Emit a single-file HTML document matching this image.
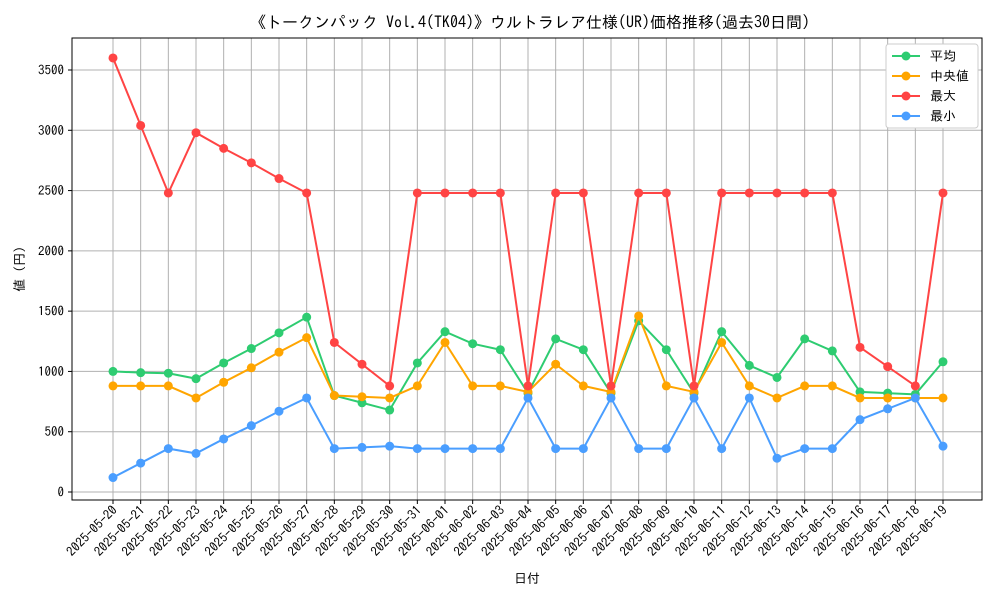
<!DOCTYPE html>
<html><head><meta charset="utf-8"><style>
body{margin:0;background:#fff;}
svg text{font-family:"IPAGothic","Noto Sans CJK JP",sans-serif;fill:#000;}
</style></head><body>
<svg id="chart" width="1000" height="600" xmlns="http://www.w3.org/2000/svg">
<rect width="1000" height="600" fill="#fff"/>
<text x="530" y="28" font-size="16" text-anchor="middle">《トークンパック Vol.4(TK04)》ウルトラレア仕様(UR)価格推移(過去30日間)</text>
<g id="grid"></g><g id="axes"></g><g id="series"></g>
<rect x="72" y="38" width="910" height="462" fill="none" stroke="#000" stroke-width="1"/>
<text x="527" y="583" font-size="13" text-anchor="middle">日付</text>
<text transform="translate(24,269) rotate(-90)" font-size="13" text-anchor="middle">値 (円)</text>
<g id="legend">
<rect x="886" y="44" width="92" height="84" fill="#fff" stroke="#ccc" rx="3"/>
</g>
</svg>
<script>
const dates=["2025-05-20","2025-05-21","2025-05-22","2025-05-23","2025-05-24","2025-05-25","2025-05-26","2025-05-27","2025-05-28","2025-05-29","2025-05-30","2025-05-31","2025-06-01","2025-06-02","2025-06-03","2025-06-04","2025-06-05","2025-06-06","2025-06-07","2025-06-08","2025-06-09","2025-06-10","2025-06-11","2025-06-12","2025-06-13","2025-06-14","2025-06-15","2025-06-16","2025-06-17","2025-06-18","2025-06-19"];
const meanVals=[1000,990,985,940,1070,1190,1320,1450,800,740,680,1070,1330,1230,1180,820,1270,1180,820,1420,1180,820,1330,1050,950,1270,1170,830,820,810,1080];
const medianVals=[880,880,880,780,910,1030,1160,1280,800,790,780,880,1240,880,880,830,1060,880,830,1460,880,830,1240,880,780,880,880,780,780,780,780];
const maxVals=[3600,3040,2480,2980,2850,2730,2600,2480,1240,1060,880,2480,2480,2480,2480,880,2480,2480,880,2480,2480,880,2480,2480,2480,2480,2480,1200,1040,880,2480];
const minVals=[120,240,360,320,440,550,670,780,360,370,380,360,360,360,360,780,360,360,780,360,360,780,360,780,280,360,360,600,690,780,380];
const yTicks=[0,500,1000,1500,2000,2500,3000,3500];
const NS="http://www.w3.org/2000/svg";
const xS=i=>113+i*(943-113)/(dates.length-1);
const yS=v=>492-v*(422/3500);
function mk(t,a,p){const e=document.createElementNS(NS,t);for(const k in a)e.setAttribute(k,a[k]);p.appendChild(e);return e;}
const grid=document.getElementById('grid'),axes=document.getElementById('axes'),ser=document.getElementById('series'),leg=document.getElementById('legend');
yTicks.forEach(v=>{const y=yS(v);
 const g=mk('line',{x1:72,x2:982,y1:y,y2:y,stroke:'#b0b0b0','stroke-width':1},grid);
 
 
 mk('line',{x1:68,x2:72,y1:y,y2:y,stroke:'#000'},axes);
 const t=mk('text',{x:64,y:y+4.5,'font-size':13,'text-anchor':'end'},axes);t.textContent=v;
 
 
});
dates.forEach((d,i)=>{const x=xS(i);
 const g=mk('line',{x1:x,x2:x,y1:38,y2:500,stroke:'#b0b0b0','stroke-width':1},grid);
 
 
 mk('line',{x1:x,x2:x,y1:500,y2:504,stroke:'#000'},axes);
 const t=mk('text',{x:x+5,y:511,'font-size':13,'text-anchor':'end',transform:`rotate(-45 ${x+5} 511)`},axes);t.textContent=d;
 
 
});
const series=[["平均",meanVals,"#2ecc71","mean"],["中央値",medianVals,"#ffa500","median"],["最大",maxVals,"#ff4444","max"],["最小",minVals,"#4a9eff","min"]];
series.forEach(([lab,vals,col,key],si)=>{
 const g=mk('g',{},ser);
 
 
 mk('polyline',{points:vals.map((v,i)=>xS(i)+','+yS(v)).join(' '),fill:'none',stroke:col,'stroke-width':2},g);
 vals.forEach((v,i)=>{const c=mk('circle',{cx:xS(i),cy:yS(v),r:4.5,fill:col},g);
  
  });
 const ly=56+si*20;
 mk('line',{x1:892,x2:920,y1:ly,y2:ly,stroke:col,'stroke-width':2},leg);
 mk('circle',{cx:906,cy:ly,r:4.5,fill:col},leg);
 const t=mk('text',{x:930,y:ly+4.5,'font-size':13},leg);t.textContent=(si==1?' ':'')+lab;
 
 
});
</script>
</body></html>
